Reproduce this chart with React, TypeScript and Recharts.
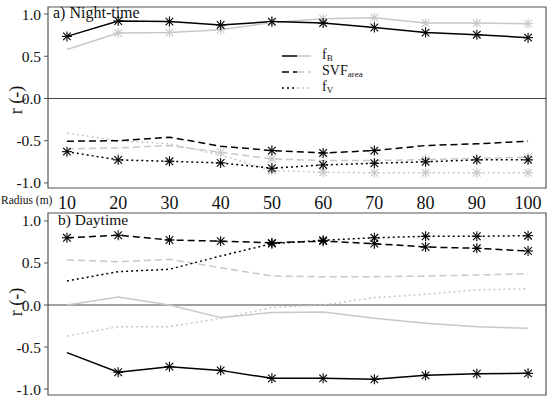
import { LineChart, Line, XAxis, YAxis, ReferenceLine, ReferenceArea } from "recharts";

const radius = [10, 20, 30, 40, 50, 60, 70, 80, 90, 100];

// a) night-time
const nightFbBlack = [0.735, 0.917, 0.91, 0.87, 0.91, 0.893, 0.84, 0.78, 0.755, 0.72];
const nightFbGray = [0.58, 0.775, 0.78, 0.815, 0.9, 0.945, 0.957, 0.893, 0.893, 0.886];
const nightSvfBlack = [-0.506, -0.5, -0.458, -0.565, -0.617, -0.645, -0.617, -0.557, -0.537, -0.506];
const nightSvfGray = [-0.597, -0.585, -0.557, -0.637, -0.716, -0.735, -0.735, -0.724, -0.708, -0.696];
const nightFvBlack = [-0.63, -0.727, -0.744, -0.763, -0.826, -0.787, -0.767, -0.75, -0.727, -0.727];
const nightFvGray = [-0.41, -0.5, -0.537, -0.67, -0.854, -0.873, -0.88, -0.88, -0.88, -0.88];

const nightFbBlackSig = [true, true, true, true, true, true, true, true, true, true];
const nightFbGraySig = [false, true, true, true, true, true, true, true, true, true];
const nightSvfBlackSig = [false, false, false, false, true, true, true, false, false, false];
const nightSvfGraySig = [false, false, false, true, true, false, false, true, false, true];
const nightFvBlackSig = [true, true, true, true, true, true, true, true, true, true];
const nightFvGraySig = [false, false, false, false, true, true, true, true, true, true];

// b) daytime
const dayFbBlack = [-0.567, -0.8, -0.734, -0.778, -0.873, -0.873, -0.885, -0.837, -0.817, -0.813];
const dayFbGray = [0.0, 0.095, 0.0, -0.15, -0.09, -0.083, -0.159, -0.218, -0.258, -0.278];
const daySvfBlack = [0.8, 0.83, 0.774, 0.76, 0.74, 0.76, 0.73, 0.69, 0.675, 0.643];
const daySvfGray = [0.536, 0.516, 0.544, 0.444, 0.345, 0.337, 0.337, 0.345, 0.357, 0.373];
const dayFvBlack = [0.286, 0.397, 0.425, 0.583, 0.73, 0.77, 0.8, 0.818, 0.818, 0.825];
const dayFvGray = [-0.369, -0.258, -0.258, -0.159, -0.03, 0.0, 0.087, 0.127, 0.18, 0.194];

const dayFbBlackSig = [false, true, true, true, true, true, true, true, true, true];
const daySvfBlackSig = [true, true, true, true, true, true, true, true, true, true];
const dayFvBlackSig = [false, false, false, false, true, true, true, true, true, true];
const noSig = radius.map(() => false);

const yTicks = [-1, -0.5, 0, 0.5, 1];

const FONT = "Liberation Serif, serif";
const BLACK = "#000";
const GRAY = "#c8c8c8";
const SOLID = undefined;
const DASH = "7 4";
const DOT = "2 3";

const X_DOMAIN = [6.3, 103.5];

const starDot = (sig: boolean[], color: string) => (props: any) => {
  const { cx, cy, index } = props;
  if (!sig[index] || cx == null || cy == null) return <g key={`n-${index}`} />;
  const r = 5;
  const d = 3.8;
  return (
    <g key={`s-${index}`} stroke={color} strokeWidth={1.1}>
      <line x1={cx - r} y1={cy} x2={cx + r} y2={cy} />
      <line x1={cx} y1={cy - r} x2={cx} y2={cy + r} />
      <line x1={cx - d} y1={cy - d} x2={cx + d} y2={cy + d} />
      <line x1={cx - d} y1={cy + d} x2={cx + d} y2={cy - d} />
    </g>
  );
};

const makeRows = (series: { key: string; values: number[] }[]) =>
  radius.map((r, i) => {
    const row: any = { r };
    series.forEach((s) => (row[s.key] = s.values[i]));
    return row;
  });

type Series = { key: string; values: number[]; sig: boolean[]; color: string; dash?: string };

const nightSeries: Series[] = [
  { key: "fbG", values: nightFbGray, sig: nightFbGraySig, color: GRAY, dash: SOLID },
  { key: "svfG", values: nightSvfGray, sig: nightSvfGraySig, color: GRAY, dash: DASH },
  { key: "fvG", values: nightFvGray, sig: nightFvGraySig, color: GRAY, dash: DOT },
  { key: "fbB", values: nightFbBlack, sig: nightFbBlackSig, color: BLACK, dash: SOLID },
  { key: "svfB", values: nightSvfBlack, sig: nightSvfBlackSig, color: BLACK, dash: DASH },
  { key: "fvB", values: nightFvBlack, sig: nightFvBlackSig, color: BLACK, dash: DOT },
];

const daySeries: Series[] = [
  { key: "fbG", values: dayFbGray, sig: noSig, color: GRAY, dash: SOLID },
  { key: "svfG", values: daySvfGray, sig: noSig, color: GRAY, dash: DASH },
  { key: "fvG", values: dayFvGray, sig: noSig, color: GRAY, dash: DOT },
  { key: "fbB", values: dayFbBlack, sig: dayFbBlackSig, color: BLACK, dash: SOLID },
  { key: "svfB", values: daySvfBlack, sig: daySvfBlackSig, color: BLACK, dash: DASH },
  { key: "fvB", values: dayFvBlack, sig: dayFvBlackSig, color: BLACK, dash: DOT },
];

const Panel = ({
  series,
  yDomain,
  height,
  margin,
  showX,
}: {
  series: Series[];
  yDomain: number[];
  height: number;
  margin: any;
  showX: boolean;
}) => (
  <LineChart width={550} height={height} data={makeRows(series)} margin={margin} style={{ fontFamily: FONT }}>
    <XAxis
      dataKey="r"
      type="number"
      domain={X_DOMAIN}
      ticks={radius}
      hide={!showX}
      height={22}
      axisLine={false}
      tickLine={false}
      tick={{ fontSize: 18, fill: "#111", style: { fontFamily: FONT } }}
    />
    <YAxis
      type="number"
      domain={yDomain}
      ticks={yTicks}
      width={48}
      axisLine={false}
      tickSize={4}
      tickMargin={3}
      tickLine={{ stroke: "#555" }}
      tickFormatter={(v: number) => v.toFixed(1)}
      tick={{ fontSize: 15.5, fill: "#111", style: { fontFamily: FONT } }}
    />
    <ReferenceLine y={0} stroke="#444" strokeWidth={1} />
    {series.map((s) => (
      <Line
        key={s.key}
        type="linear"
        dataKey={s.key}
        stroke={s.color}
        strokeWidth={1.5}
        strokeDasharray={s.dash}
        dot={starDot(s.sig, s.color)}
        activeDot={false}
        isAnimationActive={false}
      />
    ))}
    <ReferenceArea
      x1={X_DOMAIN[0]}
      x2={X_DOMAIN[1]}
      y1={yDomain[0]}
      y2={yDomain[1]}
      fill="none"
      stroke="#555"
      strokeWidth={1.2}
      fillOpacity={0}
    />
  </LineChart>
);

const legendItems = [
  { name: "f", sub: "B", dash: SOLID },
  { name: "SVF", sub: "area", dash: DASH },
  { name: "f", sub: "V", dash: DOT },
];

export default function App() {
  return (
    <div
      style={{
        position: "absolute",
        left: 0,
        top: 0,
        width: 550,
        height: 413,
        background: "#fff",
        fontFamily: FONT,
      }}
    >
      <div style={{ position: "absolute", left: 0, top: 0 }}>
        <Panel
          series={nightSeries}
          yDomain={[-1.06, 1.083]}
          height={214}
          margin={{ top: 7, right: 4, bottom: 4, left: 0 }}
          showX
        />
      </div>
      <div style={{ position: "absolute", left: 0, top: 210 }}>
        <Panel
          series={daySeries}
          yDomain={[-1.071, 1.095]}
          height={203}
          margin={{ top: 3, right: 4, bottom: 18, left: 0 }}
          showX={false}
        />
      </div>
      <svg
        width={550}
        height={413}
        style={{ position: "absolute", left: 0, top: 0, pointerEvents: "none", fontFamily: FONT }}
        fill="#111"
      >
        <text x={53} y={18} fontSize={16}>a) Night-time</text>
        <text x={58} y={225} fontSize={15.5}>b) Daytime</text>
        <text x={1} y={204} fontSize={11.5}>Radius (m)</text>
        <text x={22} y={100} fontSize={18} textAnchor="middle" transform="rotate(-90 22 100)">r (-)</text>
        <text x={22} y={302} fontSize={18} textAnchor="middle" transform="rotate(-90 22 302)">r (-)</text>
        {legendItems.map((it, i) => {
          const y = 56 + i * 16;
          return (
            <g key={it.sub}>
              <line x1={282} x2={297} y1={y} y2={y} stroke={BLACK} strokeWidth={1.5} strokeDasharray={it.dash} />
              <line x1={297} x2={311} y1={y} y2={y} stroke={GRAY} strokeWidth={1.5} strokeDasharray={it.dash} />
              <text x={322} y={y + 3} fontSize={14}>
                {it.name}
                <tspan fontSize={9} dy={2}>{it.sub}</tspan>
              </text>
            </g>
          );
        })}
      </svg>
    </div>
  );
}
